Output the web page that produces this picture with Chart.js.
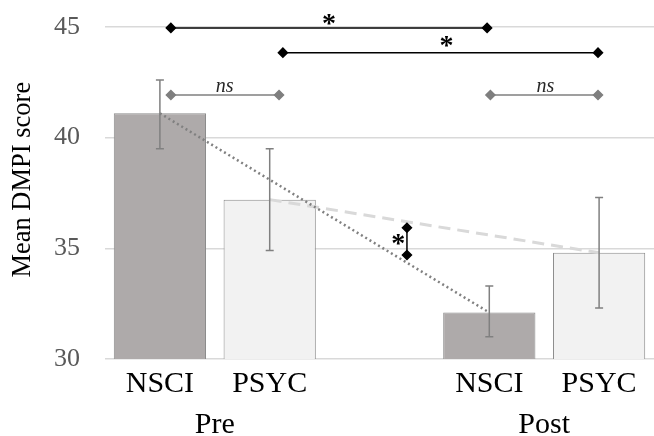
<!DOCTYPE html>
<html lang="en">
<head>
    <meta charset="UTF-8">
    <title>Mean DMPI score</title>
    <script src="https://cdn.jsdelivr.net/npm/chart.js"></script>
    <style>
        body {
            margin: 0;
            padding: 0;
            background: #fff;
        }
        .chart-container {
            width: 654px;
            height: 436px;
        }
    </style>
</head>
<body>
    <div class="chart-container">
        <canvas id="dmpiChart"></canvas>
    </div>

    <script>
        // Slots: 0 = Pre NSCI, 1 = Pre PSYC, 3 = Post NSCI, 4 = Post PSYC
        const groupLabels = ['NSCI', 'PSYC', 'NSCI', 'PSYC'];
        const groupSlots = [0, 1, 3, 4];
        const phaseLabels = ['Pre', 'Post'];
        const phaseSlots = [0.5, 3.5];
        const yTitle = 'Mean DMPI score';

        const nsciMean = [41.1, 32.1];
        const nsciHigh = [42.6, 33.3];
        const nsciLow = [39.5, 31.0];
        const psycMean = [37.2, 34.8];
        const psycHigh = [39.5, 37.3];
        const psycLow = [34.9, 32.3];

        // significance brackets: [x1, x2, y1, y2]
        const brackets = [
            [0.1, 2.98, 44.96, 44.96],
            [1.12, 3.99, 43.84, 43.84],
            [0.1, 1.085, 41.93, 41.93],
            [3.01, 3.99, 41.93, 41.93],
            [2.25, 2.25, 35.93, 34.7]
        ];
        const bracketColors = ['#000', '#000', '#7f7f7f', '#7f7f7f', '#000'];
        const sigTexts = ['*', '*', 'ns', 'ns', '*'];
        const sigX = [1.54, 2.61, 0.59, 3.51, 2.17];
        const sigY = [45.32, 44.33, 42.29, 42.29, 35.38];

        const serif = "'Liberation Serif', 'Times New Roman', serif";

        const errorBars = {
            id: 'errorBars',
            afterDatasetsDraw(chart) {
                const ctx = chart.ctx;
                const xs = chart.scales.x;
                const ys = chart.scales.y;
                const pts = [
                    [0, nsciHigh[0], nsciLow[0]],
                    [3, nsciHigh[1], nsciLow[1]],
                    [1, psycHigh[0], psycLow[0]],
                    [4, psycHigh[1], psycLow[1]]
                ];
                ctx.save();
                ctx.strokeStyle = '#808080';
                ctx.lineWidth = 1.5;
                pts.forEach(p => {
                    const x = xs.getPixelForValue(p[0]);
                    const y1 = ys.getPixelForValue(p[1]);
                    const y2 = ys.getPixelForValue(p[2]);
                    ctx.beginPath();
                    ctx.moveTo(x, y1); ctx.lineTo(x, y2);
                    ctx.moveTo(x - 4, y1); ctx.lineTo(x + 4, y1);
                    ctx.moveTo(x - 4, y2); ctx.lineTo(x + 4, y2);
                    ctx.stroke();
                });
                // significance labels
                ctx.textAlign = 'center';
                ctx.textBaseline = 'middle';
                sigTexts.forEach((t, i) => {
                    const x = xs.getPixelForValue(sigX[i]);
                    const y = ys.getPixelForValue(sigY[i]);
                    if (t === '*') {
                        ctx.font = 'bold 28px ' + serif;
                        ctx.fillStyle = '#000';
                        ctx.fillText(t, x, y + 5);
                    } else {
                        ctx.font = 'italic 20px ' + serif;
                        ctx.fillStyle = '#262626';
                        ctx.fillText(t, x, y);
                    }
                });
                // y axis title, sits a bit above the plot centre like the original
                ctx.translate(23, ys.getPixelForValue(38.1));
                ctx.rotate(-Math.PI / 2);
                ctx.font = '26.5px ' + serif;
                ctx.fillStyle = '#000';
                ctx.fillText(yTitle, 0, 0);
                ctx.restore();
            }
        };

        const bracketSets = brackets.map((b, i) => ({
            type: 'line',
            data: [{ x: b[0], y: b[2] }, { x: b[1], y: b[3] }],
            borderColor: bracketColors[i],
            backgroundColor: bracketColors[i],
            borderWidth: 1.5,
            pointStyle: 'rectRot',
            pointRadius: 4.5,
            pointHoverRadius: 4.5,
            clip: false,
            order: 0
        }));

        new Chart(document.getElementById('dmpiChart'), {
            type: 'bar',
            data: {
                datasets: [
                    {
                        label: 'NSCI',
                        data: nsciMean.map((v, i) => ({ x: [0, 3][i], y: v })),
                        backgroundColor: '#aeaaaa',
                        borderColor: '#8c8c8c',
                        borderWidth: 1,
                        grouped: false,
                        barPercentage: 0.84,
                        categoryPercentage: 1,
                        order: 10
                    },
                    {
                        label: 'PSYC',
                        data: psycMean.map((v, i) => ({ x: [1, 4][i], y: v })),
                        backgroundColor: '#f2f2f2',
                        borderColor: '#8c8c8c',
                        borderWidth: 1,
                        grouped: false,
                        barPercentage: 0.84,
                        categoryPercentage: 1,
                        order: 10
                    },
                    {
                        type: 'line',
                        data: [{ x: 0, y: nsciMean[0] }, { x: 3, y: nsciMean[1] }],
                        borderColor: '#808080',
                        borderWidth: 2.5,
                        borderDash: [2, 3],
                        pointRadius: 0,
                        order: 2
                    },
                    {
                        type: 'line',
                        data: [{ x: 1, y: psycMean[0] }, { x: 4, y: psycMean[1] }],
                        borderColor: '#d9d9d9',
                        borderWidth: 3,
                        borderDash: [12, 7],
                        pointRadius: 0,
                        order: 3
                    },
                    ...bracketSets
                ]
            },
            options: {
                responsive: true,
                maintainAspectRatio: false,
                animation: false,
                layout: {
                    autoPadding: false,
                    padding: { top: 27, right: 0, left: 0, bottom: 0 }
                },
                plugins: {
                    legend: { display: false },
                    tooltip: { enabled: false }
                },
                scales: {
                    x: {
                        type: 'linear',
                        position: 'bottom',
                        offset: false,
                        min: -0.5,
                        max: 4.5,
                        afterBuildTicks: axis => { axis.ticks = groupSlots.map(v => ({ value: v })); },
                        afterFit: axis => { axis.height = 43; },
                        grid: { display: false, drawTicks: false },
                        border: { display: false },
                        ticks: {
                            autoSkip: false,
                            maxRotation: 0,
                            padding: 7,
                            color: '#000',
                            font: { family: serif, size: 30 },
                            callback: (v, i) => groupLabels[i]
                        }
                    },
                    x2: {
                        type: 'linear',
                        position: 'bottom',
                        offset: false,
                        min: -0.5,
                        max: 4.5,
                        afterBuildTicks: axis => { axis.ticks = phaseSlots.map(v => ({ value: v })); },
                        afterFit: axis => { axis.height = 34; },
                        grid: { display: false, drawTicks: false },
                        border: { display: false },
                        ticks: {
                            autoSkip: false,
                            maxRotation: 0,
                            padding: 5,
                            color: '#000',
                            font: { family: serif, size: 30 },
                            callback: (v, i) => phaseLabels[i]
                        }
                    },
                    y: {
                        min: 30,
                        max: 45,
                        afterFit: axis => { axis.width = 105; },
                        grid: {
                            color: '#d9d9d9',
                            lineWidth: 1.5,
                            drawTicks: true,
                            tickLength: 25,
                            tickColor: 'rgba(0,0,0,0)'
                        },
                        border: { display: false },
                        ticks: {
                            stepSize: 5,
                            padding: 0,
                            color: '#595959',
                            font: { family: serif, size: 26 }
                        }
                    }
                }
            },
            plugins: [errorBars]
        });
    </script>
</body>
</html>
